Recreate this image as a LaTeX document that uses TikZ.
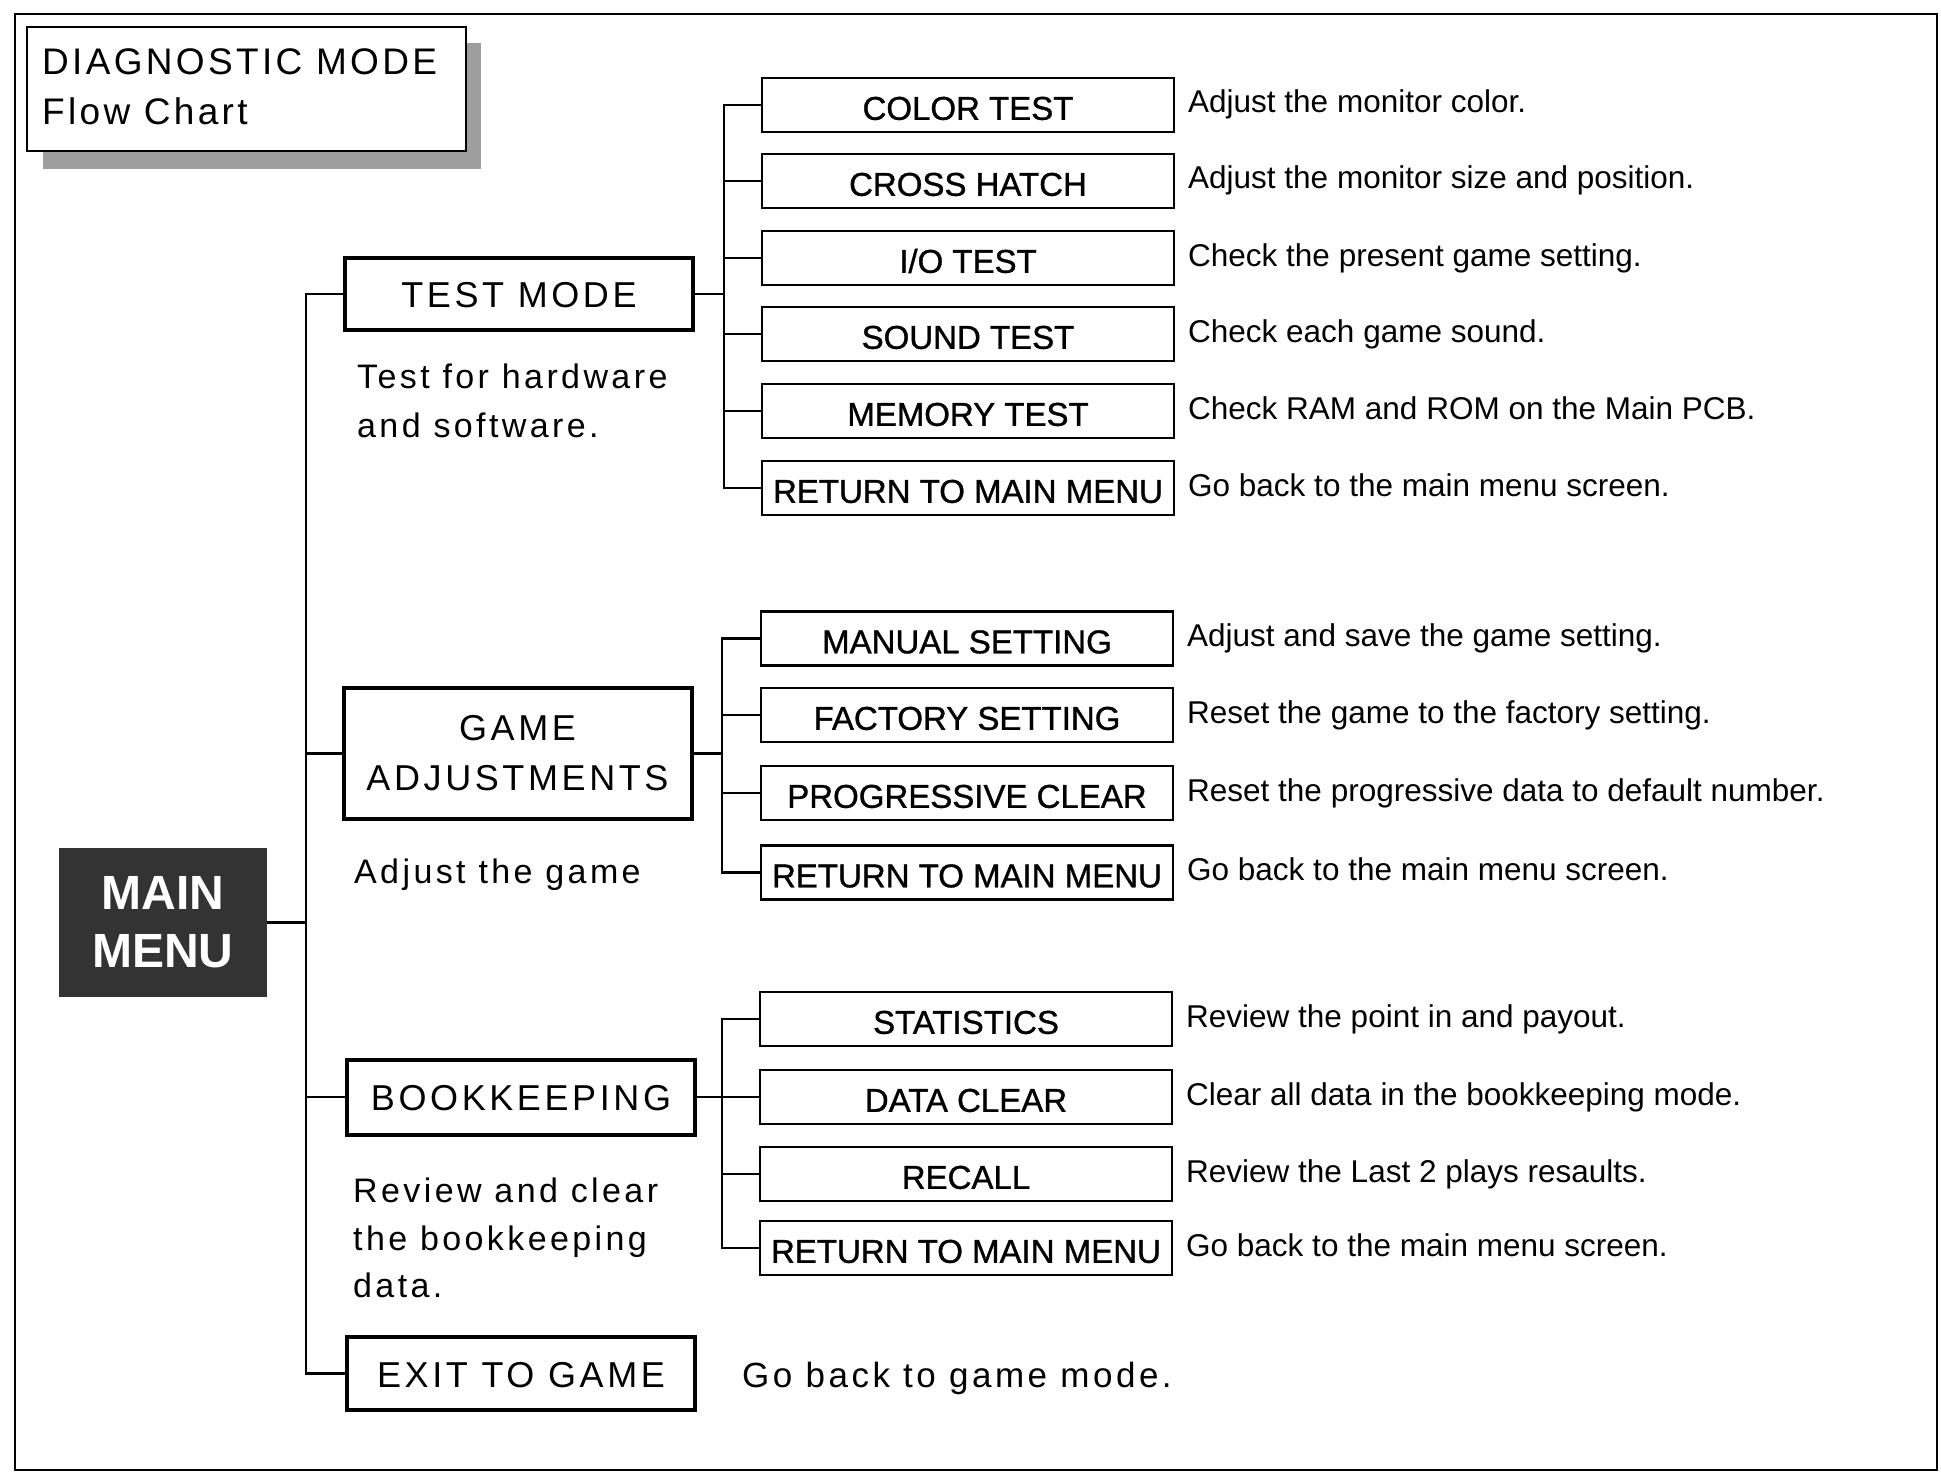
\documentclass[tikz,border=0pt]{standalone}
\usepackage{fontspec}
\setmainfont{Liberation Sans}
\newfontfamily\spacedfont[LetterSpace=10]{Liberation Sans}
\newfontfamily\titlefont[LetterSpace=9]{Liberation Sans}
\newfontfamily\labelfont[FakeBold=1]{Liberation Sans}
\begin{document}
\begin{tikzpicture}[x=1pt,y=-1pt,
  conn/.style={line width=2.5pt},
  mainframe/.style={draw,line width=4pt,minimum width=348pt,inner sep=0pt,font=\spacedfont\fontsize{36}{50}\selectfont},
  mainbox/.style={mainframe,text height=27pt,text depth=0pt},
  subbox/.style={draw,line width=2.5pt,minimum width=412pt,minimum height=54pt,inner sep=0pt,text height=29.6pt,text depth=0pt,font=\labelfont\fontsize{33}{40}\selectfont},
  desc/.style={anchor=base west,inner sep=0pt,font=\fontsize{31.5}{38}\selectfont},
  note/.style={anchor=base west,inner sep=0pt,font=\spacedfont\fontsize{34}{49}\selectfont},
  ttl/.style={anchor=base west,inner sep=0pt,font=\titlefont\fontsize{37}{50}\selectfont}
]
\useasboundingbox (0,0) rectangle (1941,1474);
\fill[white] (0,0) rectangle (1941,1474);
\draw[line width=2.5pt] (15,14) rectangle (1937,1470);

% title block with shadow
\fill[black!38] (43,43) rectangle (481,169);
\node[draw,fill=white,line width=2.5pt,minimum width=439pt,minimum height=124pt,inner sep=0pt] (title) at (246.5,89) {};
\node[ttl] (t1) at (42,75) {DIAGNOSTIC MODE};
\node[ttl] (t2) at (42,125) {Flow Chart};

% main menu
\node[fill=black!80,minimum width=208pt,minimum height=149pt,inner sep=0pt,align=center,text=white,font=\bfseries\fontsize{48}{58}\selectfont] (mm) at (163,922.5) {MAIN\\MENU};

% main column
\node[mainbox,minimum height=72pt] (tm) at (519,294) {TEST MODE};
\node[mainframe,minimum height=131pt,align=center] (ga) at (517.5,753.5) {GAME\\ADJUSTMENTS};
\node[mainbox,minimum height=75pt] (bk) at (521,1097) {BOOKKEEPING};
\node[mainbox,minimum height=73pt] (ex) at (521,1373.5) {EXIT TO GAME};

\coordinate (mj) at (306,922.5);
\draw[conn] (mm.east) -- (mj);
\draw[conn] (tm.west) -- (tm.west -| mj) -- (ex.west -| mj) -- (ex.west);
\draw[conn] (ga.west) -- (ga.west -| mj);
\draw[conn] (bk.west) -- (bk.west -| mj);

% notes
\node[note] (n1) at (357,388) {Test for hardware};
\node[note] (n2) at (357,437) {and software.};
\node[note] (n3) at (354,883) {Adjust the game};
\node[note] (n4) at (353,1202) {Review and clear};
\node[note] (n5) at (353,1250) {the bookkeeping};
\node[note] (n6) at (353,1297) {data.};
\node[note,font=\spacedfont\fontsize{35}{49}\selectfont] (n7) at (742,1387) {Go back to game mode.};

% test mode children
\node[subbox] (c1) at (968,105) {COLOR TEST};
\node[subbox] (c2) at (968,181) {CROSS HATCH};
\node[subbox] (c3) at (968,258) {I/O TEST};
\node[subbox] (c4) at (968,334) {SOUND TEST};
\node[subbox] (c5) at (968,411) {MEMORY TEST};
\node[subbox] (c6) at (968,488) {RETURN TO MAIN MENU};
\coordinate (tj) at (724,294);
\draw[conn] (tm.east) -- (tj);
\draw[conn] (c1.west) -- (c1.west -| tj) -- (c6.west -| tj) -- (c6.west);
\draw[conn] (c2.west) -- (c2.west -| tj);
\draw[conn] (c3.west) -- (c3.west -| tj);
\draw[conn] (c4.west) -- (c4.west -| tj);
\draw[conn] (c5.west) -- (c5.west -| tj);
\node[desc] (d1) at (1188,113) {Adjust the monitor color.};
\node[desc] (d2) at (1188,189) {Adjust the monitor size and position.};
\node[desc] (d3) at (1188,266) {Check the present game setting.};
\node[desc] (d4) at (1188,342) {Check each game sound.};
\node[desc] (d5) at (1188,419) {Check RAM and ROM on the Main PCB.};
\node[desc] (d6) at (1188,496) {Go back to the main menu screen.};

% game adjustments children
\node[subbox] (g1) at (967,638.5) {MANUAL SETTING};
\node[subbox] (g2) at (967,715) {FACTORY SETTING};
\node[subbox] (g3) at (967,793) {PROGRESSIVE CLEAR};
\node[subbox] (g4) at (967,872.5) {RETURN TO MAIN MENU};
\coordinate (gj) at (722,753.5);
\draw[conn] (ga.east) -- (gj);
\draw[conn] (g1.west) -- (g1.west -| gj) -- (g4.west -| gj) -- (g4.west);
\draw[conn] (g2.west) -- (g2.west -| gj);
\draw[conn] (g3.west) -- (g3.west -| gj);
\node[desc] (e1) at (1187,646) {Adjust and save the game setting.};
\node[desc] (e2) at (1187,723) {Reset the game to the factory setting.};
\node[desc] (e3) at (1187,801) {Reset the progressive data to default number.};
\node[desc] (e4) at (1187,880) {Go back to the main menu screen.};

% bookkeeping children
\node[subbox] (b1) at (966,1019) {STATISTICS};
\node[subbox] (b2) at (966,1097) {DATA CLEAR};
\node[subbox] (b3) at (966,1174) {RECALL};
\node[subbox] (b4) at (966,1248) {RETURN TO MAIN MENU};
\coordinate (bj) at (722,1097);
\draw[conn] (bk.east) -- (b2.west);
\draw[conn] (b1.west) -- (b1.west -| bj) -- (b4.west -| bj) -- (b4.west);
\draw[conn] (b3.west) -- (b3.west -| bj);
\node[desc] (f1) at (1186,1027) {Review the point in and payout.};
\node[desc] (f2) at (1186,1105) {Clear all data in the bookkeeping mode.};
\node[desc] (f3) at (1186,1182) {Review the Last 2 plays resaults.};
\node[desc] (f4) at (1186,1256) {Go back to the main menu screen.};
\end{tikzpicture}
\end{document}
